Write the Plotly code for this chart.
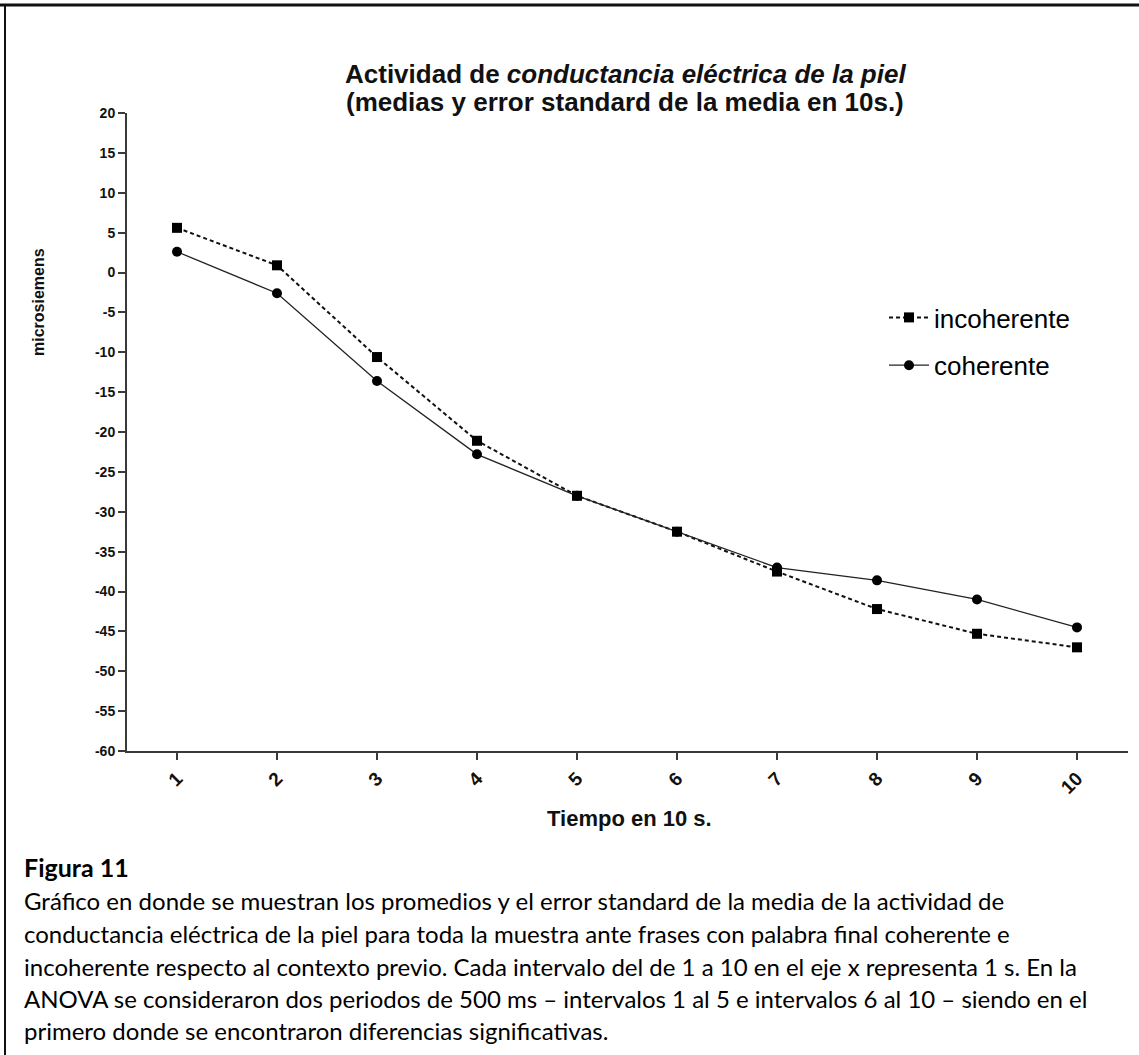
import plotly.graph_objects as go

# ---- data ----
intervals = [1, 2, 3, 4, 5, 6, 7, 8, 9, 10]
tick_labels = ["1", "2", "3", "4", "5", "6", "7", "8", "9", "10"]
incoherente = [5.6, 0.9, -10.6, -21.1, -28.0, -32.5, -37.5, -42.2, -45.3, -47.0]
coherente = [2.6, -2.6, -13.6, -22.8, -28.0, -32.5, -37.0, -38.6, -41.0, -44.5]
y_ticks = list(range(-60, 25, 5))

title_l1 = "Actividad de <i>conductancia eléctrica de la piel</i>"
title_l2 = "(medias y error standard de la media en 10s.)"
x_title = "Tiempo en 10 s."
y_title = "microsiemens"
fig_label = "Figura 11"
caption_lines = [
    "Gráfico en donde se muestran los promedios y el error standard de la media de la actividad de",
    "conductancia eléctrica de la piel para toda la muestra ante frases con palabra final coherente e",
    "incoherente respecto al contexto previo. Cada intervalo del de 1 a 10 en el eje x representa 1 s. En la",
    "ANOVA se consideraron dos periodos de 500 ms – intervalos 1 al 5 e intervalos 6 al 10 – siendo en el",
    "primero donde se encontraron diferencias significativas.",
]

W, H = 1139, 1055
L, R, T, B = 127, 1128, 113, 751  # plot area in px

ARIAL = "Liberation Sans, Arial, sans-serif"
CAPTION_FONT = "Lato, sans-serif"


def px(x):
    return (x - L) / (R - L)


def py(y):
    return (B - y) / (B - T)


fig = go.Figure()
fig.add_trace(go.Scatter(
    x=intervals, y=incoherente, name="incoherente", mode="lines+markers",
    line=dict(color="#111111", width=2, dash="4px,3px"),
    marker=dict(symbol="square", size=10, color="#000000"),
    legendgroup="a",
))
fig.add_trace(go.Scatter(
    x=intervals, y=coherente, name="coherente", mode="lines+markers",
    line=dict(color="#222222", width=1.3),
    marker=dict(symbol="circle", size=10, color="#000000"),
    legendgroup="b",
))

axis_common = dict(
    showline=True, linecolor="#3a3a3a", linewidth=2,
    ticks="outside", ticklen=7, tickwidth=2, tickcolor="#3a3a3a",
    showgrid=False, zeroline=False,
)

fig.update_xaxes(
    range=[0.5, 10.51], tickvals=intervals, ticktext=["<b>%s</b>" % t for t in tick_labels],
    tickangle=-45, tickfont=dict(family=ARIAL, size=19, color="#111111"), **axis_common,
)
fig.update_yaxes(
    range=[-60, 20], tickvals=y_ticks, ticktext=["<b>%d</b>" % v for v in y_ticks],
    tickfont=dict(family=ARIAL, size=14, color="#111111"), **axis_common,
)

annotations = [
    dict(text="<b>%s</b>" % title_l1, x=px(625), y=py(74),
         xref="paper", yref="paper", xanchor="center", yanchor="middle", showarrow=False,
         font=dict(family=ARIAL, size=26, color="#111111")),
    dict(text="<b>%s</b>" % title_l2, x=px(625), y=py(102),
         xref="paper", yref="paper", xanchor="center", yanchor="middle", showarrow=False,
         font=dict(family=ARIAL, size=26, color="#111111")),
    dict(text="<b>%s</b>" % x_title, x=px(629), y=py(818), xref="paper", yref="paper",
         xanchor="center", yanchor="middle", showarrow=False,
         font=dict(family=ARIAL, size=22, color="#111111")),
    dict(text="<b>%s</b>" % y_title, x=px(38), y=py(302), xref="paper", yref="paper",
         xanchor="center", yanchor="middle", showarrow=False, textangle=-90,
         font=dict(family=ARIAL, size=16, color="#111111")),
    dict(text="<b>%s</b>" % fig_label, x=px(22), y=py(867), xref="paper", yref="paper",
         xanchor="left", yanchor="middle", showarrow=False,
         font=dict(family=CAPTION_FONT, size=25, color="#000000")),
]

line_y = [900, 933, 966, 998, 1030]
for txt, yy in zip(caption_lines, line_y):
    annotations.append(dict(
        text=txt, x=px(22), y=py(yy), xref="paper", yref="paper",
        xanchor="left", yanchor="middle", align="left", showarrow=False,
        font=dict(family=CAPTION_FONT, size=24, color="#000000")))

shapes = [
    dict(type="line", xref="paper", yref="paper", x0=px(0), x1=px(W), y0=py(5), y1=py(5),
         line=dict(color="#111111", width=3)),
    dict(type="line", xref="paper", yref="paper", x0=px(5), x1=px(5), y0=py(5), y1=py(H),
         line=dict(color="#111111", width=2)),
]

fig.update_layout(
    width=W, height=H, autosize=False,
    margin=dict(l=L, r=W - R, t=T, b=H - B),
    paper_bgcolor="white", plot_bgcolor="white",
    annotations=annotations, shapes=shapes,
    showlegend=True,
    legend=dict(
        x=px(884), y=py(294), xanchor="left", yanchor="top",
        font=dict(family=ARIAL, size=26, color="#000000"),
        tracegroupgap=11, bgcolor="rgba(0,0,0,0)", itemwidth=40,
    ),
)

fig.write_html("out.html")
